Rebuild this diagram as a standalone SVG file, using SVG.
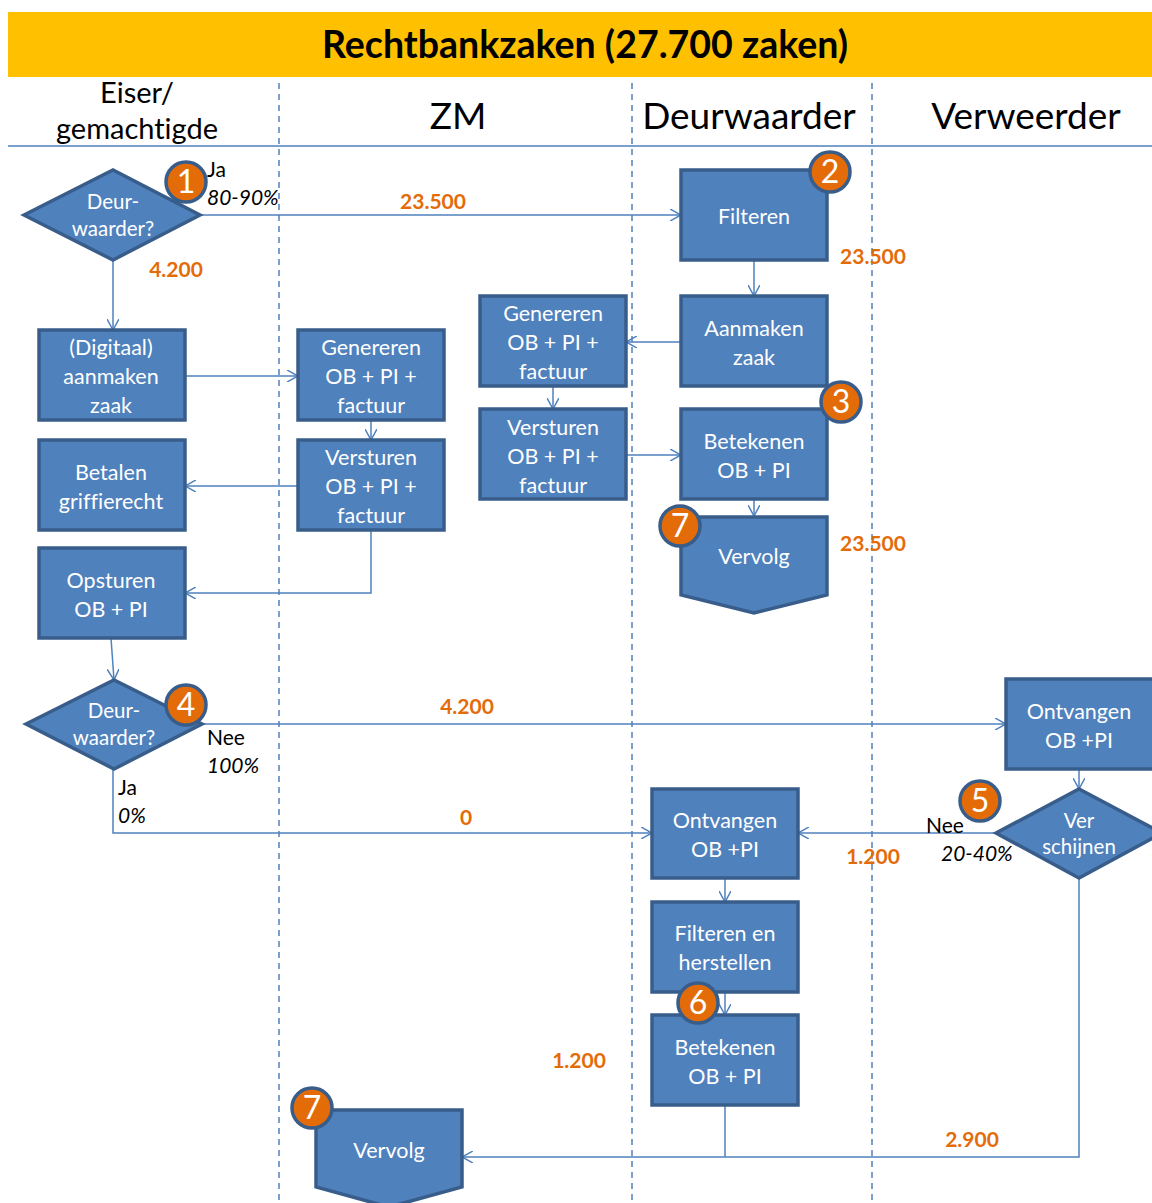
<svg xmlns="http://www.w3.org/2000/svg" width="1152" height="1203" viewBox="0 0 1152 1203">
<defs>
<marker id="arr" viewBox="0 0 12 12" refX="11" refY="6" markerWidth="12" markerHeight="12" markerUnits="userSpaceOnUse" orient="auto">
<path d="M0,0 L11,6 L0,12" fill="none" stroke="#4F81BD" stroke-width="1.5"/>
</marker>
<style>
text{font-variant-ligatures:none}
.lane{stroke:#4F81BD;stroke-width:1.5;stroke-dasharray:6,5;fill:none}
.box{fill:#4F81BD;stroke:#385D8A;stroke-width:3.5}
.t{font-family:Lato,"Liberation Sans",sans-serif;font-size:21.5px;fill:#fff;text-anchor:middle}
.dt{font-family:Lato,"Liberation Sans",sans-serif;font-size:20.5px;fill:#fff;text-anchor:middle}
.hd{font-family:Lato,"Liberation Sans",sans-serif;font-size:37px;fill:#000;text-anchor:middle}
.num{font-family:Lato,"Liberation Sans",sans-serif;font-size:21px;font-weight:bold;fill:#E36C09;text-anchor:middle}
.lbl{font-family:Lato,"Liberation Sans",sans-serif;font-size:21px;fill:#000}
.it{font-style:italic}
.c{fill:#E36C09;stroke:#385D8A;stroke-width:3.5}
.ct{font-family:Lato,"Liberation Sans",sans-serif;font-size:32px;fill:#fff;text-anchor:middle}
.con{stroke:#4F81BD;stroke-width:1.5;fill:none}
</style>
</defs>
<rect width="1152" height="1203" fill="#fff"/>
<rect x="8" y="12" width="1144" height="65" fill="#FFC000"/>
<text x="585" y="58" font-family="Lato,'Liberation Sans',sans-serif" font-size="37.5" font-weight="bold" text-anchor="middle" fill="#000">Rechtbankzaken (27.700 zaken)</text>
<g id="lanes">
<line class="lane" x1="279" y1="83" x2="279" y2="1203"/>
<line class="lane" x1="632" y1="83" x2="632" y2="1203"/>
<line class="lane" x1="872" y1="83" x2="872" y2="1203"/>
<line x1="8" y1="146" x2="1152" y2="146" stroke="#4F81BD" stroke-width="1.5"/>
<text class="hd" x="137" y="103" style="font-size:29px">Eiser/</text>
<text class="hd" x="137" y="139" style="font-size:29px">gemachtigde</text>
<text class="hd" x="458" y="129">ZM</text>
<text class="hd" x="749" y="129">Deurwaarder</text>
<text class="hd" x="1026" y="129">Verweerder</text>
</g>
<g id="connectors">
<line class="con" x1="200" y1="215" x2="681" y2="215" marker-end="url(#arr)"/>
<line class="con" x1="113" y1="260" x2="113" y2="330" marker-end="url(#arr)"/>
<line class="con" x1="754" y1="260" x2="754" y2="296" marker-end="url(#arr)"/>
<line class="con" x1="681" y1="342" x2="626" y2="342" marker-end="url(#arr)"/>
<line class="con" x1="553" y1="386" x2="553" y2="409" marker-end="url(#arr)"/>
<line class="con" x1="626" y1="455" x2="681" y2="455" marker-end="url(#arr)"/>
<line class="con" x1="754" y1="499" x2="754" y2="516" marker-end="url(#arr)"/>
<line class="con" x1="185" y1="376" x2="298" y2="376" marker-end="url(#arr)"/>
<line class="con" x1="371" y1="420" x2="371" y2="440" marker-end="url(#arr)"/>
<line class="con" x1="298" y1="486" x2="185" y2="486" marker-end="url(#arr)"/>
<polyline class="con" points="371,530 371,593 185,593" marker-end="url(#arr)"/>
<line class="con" x1="111" y1="638" x2="114" y2="680" marker-end="url(#arr)"/>
<line class="con" x1="202" y1="724" x2="1006" y2="724" marker-end="url(#arr)"/>
<polyline class="con" points="113,769 113,833 652,833" marker-end="url(#arr)"/>
<line class="con" x1="1079" y1="769" x2="1079" y2="789" marker-end="url(#arr)"/>
<line class="con" x1="996" y1="833" x2="798" y2="833" marker-end="url(#arr)"/>
<line class="con" x1="725" y1="878" x2="725" y2="902" marker-end="url(#arr)"/>
<line class="con" x1="725" y1="992" x2="725" y2="1015" marker-end="url(#arr)"/>
<line class="con" x1="725" y1="1105" x2="725" y2="1157"/>
<polyline class="con" points="1079,878 1079,1157 462,1157" marker-end="url(#arr)"/>
<text class="num" x="433" y="209">23.500</text>
<text class="num" x="176" y="277">4.200</text>
<text class="num" x="873" y="264">23.500</text>
<text class="num" x="873" y="551">23.500</text>
<text class="num" x="467" y="714">4.200</text>
<text class="num" x="466" y="825">0</text>
<text class="num" x="873" y="864">1.200</text>
<text class="num" x="579" y="1068">1.200</text>
<text class="num" x="972" y="1147">2.900</text>
<text class="lbl" x="207" y="177">Ja</text>
<text class="lbl it" x="207" y="205">80-90%</text>
<text class="lbl" x="207" y="745">Nee</text>
<text class="lbl it" x="207" y="773">100%</text>
<text class="lbl" x="118" y="795">Ja</text>
<text class="lbl it" x="118" y="823">0%</text>
<text class="lbl" x="926" y="833">Nee</text>
<text class="lbl it" x="941" y="861">20-40%</text>
</g>
<g id="n-dw1">
<polygon class="box" points="24,215 113,170 200,215 113,260"/>
<text class="dt" x="113" y="209">Deur-</text>
<text class="dt" x="113" y="236">waarder?</text>
</g>
<g id="n-filteren">
<rect class="box" x="681" y="170" width="146" height="90"/>
<text class="t" x="754" y="224">Filteren</text>
</g>
<g id="n-aanmaken">
<rect class="box" x="681" y="296" width="146" height="90"/>
<text class="t" x="754" y="336">Aanmaken</text>
<text class="t" x="754" y="365">zaak</text>
</g>
<g id="n-gen-dw">
<rect class="box" x="480" y="296" width="146" height="90"/>
<text class="t" x="553" y="321">Genereren</text>
<text class="t" x="553" y="350">OB + PI +</text>
<text class="t" x="553" y="379">factuur</text>
</g>
<g id="n-verst-dw">
<rect class="box" x="480" y="409" width="146" height="90"/>
<text class="t" x="553" y="435">Versturen</text>
<text class="t" x="553" y="464">OB + PI +</text>
<text class="t" x="553" y="493">factuur</text>
</g>
<g id="n-betek-dw">
<rect class="box" x="681" y="409" width="146" height="90"/>
<text class="t" x="754" y="449">Betekenen</text>
<text class="t" x="754" y="478">OB + PI</text>
</g>
<g id="n-vervolg1">
<polygon class="box" points="681,517 827,517 827,595 754,613 681,595"/>
<text class="t" x="754" y="564">Vervolg</text>
</g>
<g id="n-digitaal">
<rect class="box" x="39" y="330" width="146" height="90"/>
<text class="t" x="111" y="355">(Digitaal)</text>
<text class="t" x="111" y="384">aanmaken</text>
<text class="t" x="111" y="413">zaak</text>
</g>
<g id="n-gen-zm">
<rect class="box" x="298" y="330" width="146" height="90"/>
<text class="t" x="371" y="355">Genereren</text>
<text class="t" x="371" y="384">OB + PI +</text>
<text class="t" x="371" y="413">factuur</text>
</g>
<g id="n-verst-zm">
<rect class="box" x="298" y="440" width="146" height="90"/>
<text class="t" x="371" y="465">Versturen</text>
<text class="t" x="371" y="494">OB + PI +</text>
<text class="t" x="371" y="523">factuur</text>
</g>
<g id="n-betalen">
<rect class="box" x="39" y="440" width="146" height="90"/>
<text class="t" x="111" y="480">Betalen</text>
<text class="t" x="111" y="509">griffierecht</text>
</g>
<g id="n-opsturen">
<rect class="box" x="39" y="548" width="146" height="90"/>
<text class="t" x="111" y="588">Opsturen</text>
<text class="t" x="111" y="617">OB + PI</text>
</g>
<g id="n-dw2">
<polygon class="box" points="26,724 114,680 202,724 114,769"/>
<text class="dt" x="114" y="718">Deur-</text>
<text class="dt" x="114" y="745">waarder?</text>
</g>
<g id="n-ontv-vw">
<rect class="box" x="1006" y="679" width="150" height="90"/>
<text class="t" x="1079" y="719">Ontvangen</text>
<text class="t" x="1079" y="748">OB +PI</text>
</g>
<g id="n-verschijnen">
<polygon class="box" points="996,833 1079,789 1162,833 1079,878"/>
<text class="dt" x="1079" y="828">Ver</text>
<text class="dt" x="1079" y="854">schijnen</text>
</g>
<g id="n-ontv-dw">
<rect class="box" x="652" y="789" width="146" height="89"/>
<text class="t" x="725" y="828">Ontvangen</text>
<text class="t" x="725" y="857">OB +PI</text>
</g>
<g id="n-filt-herst">
<rect class="box" x="652" y="902" width="146" height="90"/>
<text class="t" x="725" y="941">Filteren en</text>
<text class="t" x="725" y="970">herstellen</text>
</g>
<g id="n-betek-dw2">
<rect class="box" x="652" y="1015" width="146" height="90"/>
<text class="t" x="725" y="1055">Betekenen</text>
<text class="t" x="725" y="1084">OB + PI</text>
</g>
<g id="n-vervolg2">
<polygon class="box" points="316,1110 462,1110 462,1187 389,1207 316,1187"/>
<text class="t" x="389" y="1158">Vervolg</text>
</g>
<g id="badges">
<circle class="c" cx="186" cy="182" r="20"/><text class="ct" x="186" y="193">1</text>
<circle class="c" cx="830" cy="172" r="20"/><text class="ct" x="830" y="183">2</text>
<circle class="c" cx="841" cy="402" r="20"/><text class="ct" x="841" y="413">3</text>
<circle class="c" cx="186" cy="705" r="20"/><text class="ct" x="186" y="716">4</text>
<circle class="c" cx="980" cy="801" r="20"/><text class="ct" x="980" y="812">5</text>
<circle class="c" cx="698" cy="1003" r="20"/><text class="ct" x="698" y="1014">6</text>
<circle class="c" cx="680" cy="526" r="20"/><text class="ct" x="680" y="537">7</text>
<circle class="c" cx="312" cy="1108" r="20"/><text class="ct" x="312" y="1119">7</text>
</g>
</svg>
